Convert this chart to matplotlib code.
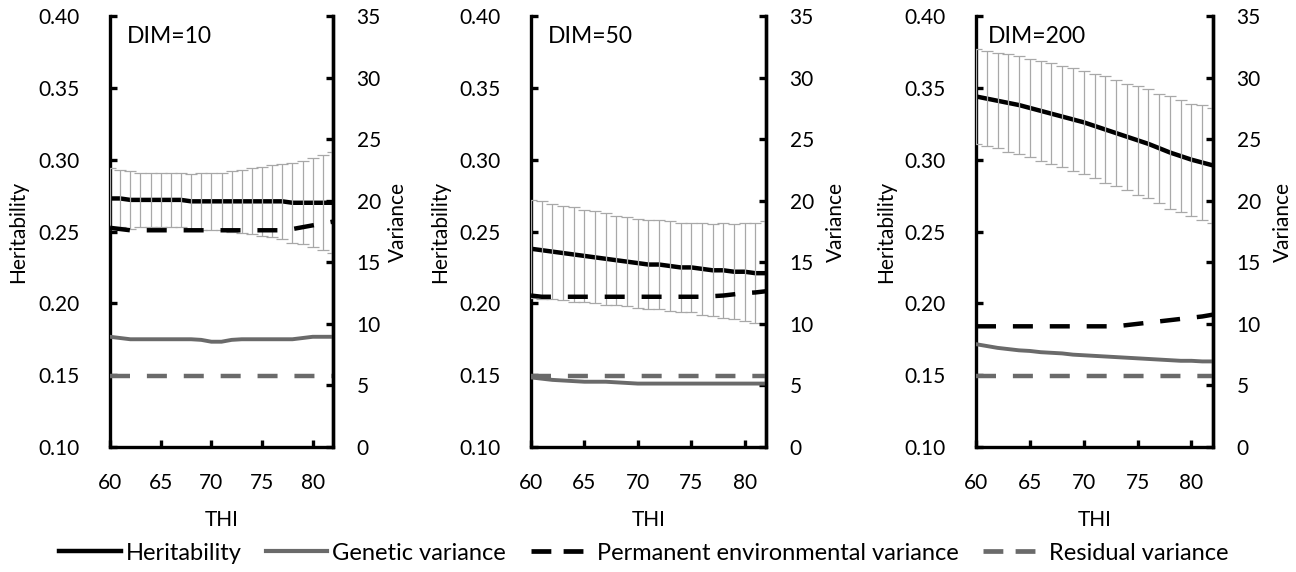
import numpy as np
import matplotlib.pyplot as plt
from matplotlib.lines import Line2D

plt.rcParams['font.family'] = ['Lato', 'DejaVu Sans']

thi = list(range(60, 83))

# DIM = 10
h10 = [0.273, 0.273, 0.272, 0.272, 0.272, 0.272, 0.272, 0.272, 0.271, 0.271, 0.271, 0.271,
       0.271, 0.271, 0.271, 0.271, 0.271, 0.271, 0.270, 0.270, 0.270, 0.270, 0.270]
se10 = [0.021, 0.020, 0.020, 0.019, 0.019, 0.019, 0.019, 0.019, 0.019, 0.020, 0.020, 0.020,
        0.021, 0.022, 0.023, 0.024, 0.025, 0.026, 0.028, 0.029, 0.031, 0.033, 0.035]
gv10 = [8.95, 8.85, 8.75, 8.75, 8.75, 8.75, 8.75, 8.75, 8.75, 8.70, 8.55, 8.55,
        8.70, 8.75, 8.75, 8.75, 8.75, 8.75, 8.75, 8.85, 8.95, 8.95, 8.95]
pe10 = [17.8, 17.7, 17.6, 17.6, 17.6, 17.6, 17.6, 17.6, 17.6, 17.6, 17.6, 17.6,
        17.6, 17.6, 17.6, 17.6, 17.6, 17.6, 17.7, 17.85, 18.0, 18.15, 18.3]
rv10 = [5.8] * 23

# DIM = 50
h50 = [0.238, 0.237, 0.236, 0.235, 0.234, 0.233, 0.232, 0.231, 0.230, 0.229, 0.228, 0.227,
       0.227, 0.226, 0.225, 0.225, 0.224, 0.223, 0.223, 0.222, 0.222, 0.221, 0.221]
se50 = [0.034, 0.034, 0.033, 0.033, 0.033, 0.032, 0.032, 0.032, 0.031, 0.031, 0.031, 0.031,
        0.031, 0.031, 0.031, 0.031, 0.032, 0.032, 0.033, 0.033, 0.034, 0.035, 0.036]
gv50 = [5.65, 5.55, 5.45, 5.40, 5.35, 5.30, 5.30, 5.30, 5.25, 5.20, 5.15, 5.15,
        5.15, 5.15, 5.15, 5.15, 5.15, 5.15, 5.15, 5.15, 5.15, 5.15, 5.15]
pe50 = [12.3, 12.2, 12.2, 12.2, 12.2, 12.2, 12.2, 12.2, 12.2, 12.2, 12.2, 12.2,
        12.2, 12.2, 12.2, 12.2, 12.2, 12.25, 12.3, 12.4, 12.5, 12.55, 12.65]
rv50 = [5.8] * 23

# DIM = 200
h200 = [0.344, 0.3425, 0.341, 0.3395, 0.338, 0.336, 0.334, 0.332, 0.330, 0.328, 0.326, 0.3235,
        0.321, 0.3185, 0.316, 0.3135, 0.311, 0.308, 0.305, 0.3025, 0.300, 0.298, 0.296]
se200 = [0.033, 0.033, 0.033, 0.034, 0.034, 0.034, 0.035, 0.035, 0.035, 0.036, 0.036, 0.036,
         0.037, 0.037, 0.037, 0.038, 0.038, 0.038, 0.039, 0.039, 0.039, 0.040, 0.040]
gv200 = [8.35, 8.20, 8.05, 7.95, 7.85, 7.80, 7.70, 7.65, 7.60, 7.50, 7.45, 7.40,
         7.35, 7.30, 7.25, 7.20, 7.15, 7.10, 7.05, 7.00, 7.00, 6.95, 6.95]
pe200 = [9.8, 9.8, 9.8, 9.8, 9.8, 9.8, 9.8, 9.8, 9.8, 9.8, 9.8, 9.8,
         9.8, 9.8, 9.9, 10.0, 10.1, 10.2, 10.3, 10.4, 10.5, 10.6, 10.75]
rv200 = [5.8] * 23

titles = ["DIM=10", "DIM=50", "DIM=200"]
herit = [h10, h50, h200]
herit_se = [se10, se50, se200]
gen_var = [gv10, gv50, gv200]
pe_var = [pe10, pe50, pe200]
res_var = [rv10, rv50, rv200]

legend_labels = ["Heritability", "Genetic variance",
                 "Permanent environmental variance", "Residual variance"]

# layout in pixels
W, H = 1296, 572
top, bottom = 16, 447
boxes = [(110, 223), (531, 235), (976, 237)]
herit_lab_x = [18, 440, 886]
var_lab_x = [398, 836, 1283]
title_x = [0.075, 0.07, 0.05]

fs = 15
spine_w = 2.4
gray = '#6a6a6a'
dash = (4.5, 3.8)

fig = plt.figure(figsize=(W / 100, H / 100), dpi=100)

for i in range(3):
    left, width = boxes[i]
    ax = fig.add_axes([left / W, 1 - bottom / H, width / W, (bottom - top) / H])
    ax2 = ax.twinx()

    ax.plot(thi, herit[i], color='black', lw=3.2, zorder=3)
    ax.errorbar(thi, herit[i], yerr=herit_se[i], fmt='none', ecolor='#a8a8a8',
                elinewidth=0.9, capsize=4, capthick=0.9, zorder=4)

    ax2.plot(thi, gen_var[i], color=gray, lw=2.8)
    ax2.plot(thi, pe_var[i], color='black', lw=3.2, dashes=dash)
    ax2.plot(thi, res_var[i], color=gray, lw=3.2, dashes=dash)

    ax.set_xlim(60, 82)
    ax.set_ylim(0.10, 0.40)
    ax2.set_ylim(0, 35)
    ax.set_xticks([60, 65, 70, 75, 80])
    yt = np.arange(0.10, 0.401, 0.05)
    ax.set_yticks(yt)
    ax.set_yticklabels([f"{v:.2f}" for v in yt])
    ax2.set_yticks(range(0, 36, 5))

    for a in (ax, ax2):
        a.spines['top'].set_visible(False)
        for s in a.spines.values():
            s.set_linewidth(spine_w)
    ax2.spines['left'].set_visible(False)
    ax2.spines['bottom'].set_visible(False)

    ax.tick_params(axis='y', direction='in', length=5, width=spine_w, labelsize=fs, pad=22)
    ax.tick_params(axis='x', direction='in', length=5, width=spine_w, labelsize=fs, pad=19)
    ax2.tick_params(axis='y', direction='in', length=5, width=spine_w, labelsize=fs, pad=17)

    ax.set_xlabel("THI", fontsize=fs)
    ax.xaxis.set_label_coords(0.5, -0.146)

    ax.set_ylabel("Heritability", fontsize=fs)
    ax2.set_ylabel("Variance", fontsize=fs)
    for lab in (ax.yaxis.label, ax2.yaxis.label):
        lab.set_rotation_mode('default')
        lab.set_ha('center')
        lab.set_va('center')
    ax.yaxis.set_label_coords((herit_lab_x[i] - left) / width, 0.5)
    ax2.yaxis.set_label_coords((var_lab_x[i] - left) / width, 1 - (222 - top) / (bottom - top))

    ax.text(title_x[i], 0.953, titles[i], transform=ax.transAxes,
            fontsize=16.5, va='center', ha='left')

handles = [
    Line2D([], [], color='black', lw=3.2),
    Line2D([], [], color=gray, lw=3.0),
    Line2D([], [], color='black', lw=3.4, dashes=(4.2, 2.6)),
    Line2D([], [], color=gray, lw=3.4, dashes=(4.2, 2.6)),
]
fig.legend(handles, legend_labels, loc='center', bbox_to_anchor=(0.497, 1 - 553 / H),
           ncol=4, frameon=False, fontsize=17, handlelength=2.6, handletextpad=0.2,
           columnspacing=1.05)

fig.savefig("out.png", dpi=100)
